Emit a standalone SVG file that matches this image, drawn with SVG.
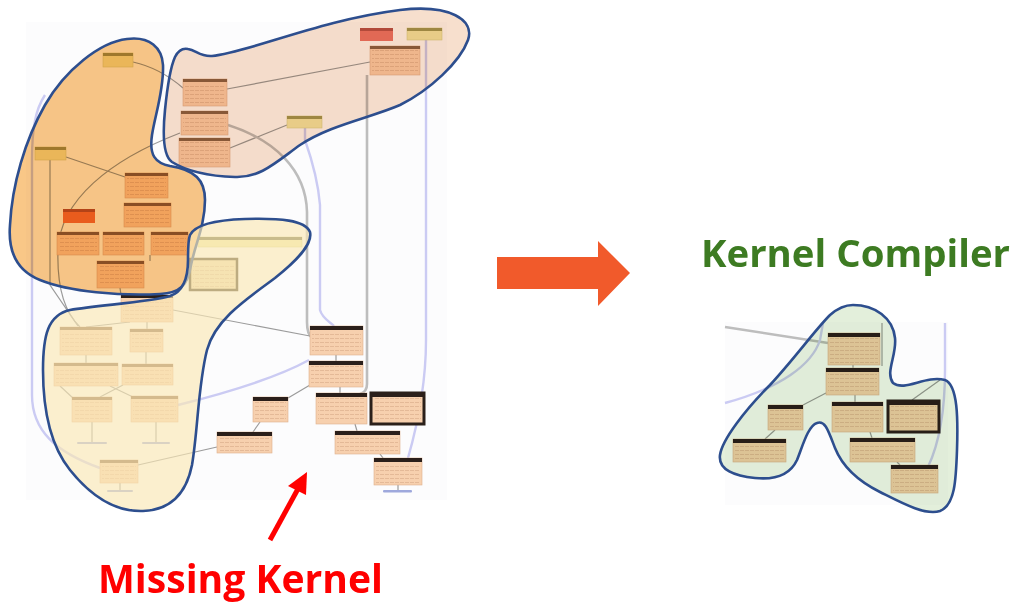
<svg xmlns="http://www.w3.org/2000/svg" width="1020" height="603" viewBox="0 0 1020 603">
  <defs>
    <pattern id="rows" width="5" height="4" patternUnits="userSpaceOnUse">
      <rect x="0" y="2" width="4" height="1" fill="#a06a44" fill-opacity="0.22"/>
    </pattern>
    <style>
      .bg{fill:#fcfcfd}
      .nb{fill:#f7d0ae;stroke:#ddb08c;stroke-width:0.6}
      .rw{fill:url(#rows)}
      .hd{fill:#8c6444}
      .hk{fill:#2b1f1a}
      .ny{fill:#f0eaa8;stroke:#d8d08a;stroke-width:0.6}
      .hy{fill:#a39a52}
      .nr{fill:#e9786a}
      .hr{fill:#b85448}
      .no{fill:#ef7636}
      .ho{fill:#b8552a}
      .thick{fill:#f7d0ae;stroke:#2b201a;stroke-width:3}
      .boxed{fill:#eed9ab;stroke:#4c3d22;stroke-width:2.5}
      .mark{fill:#9ea8dc}
      .eg{fill:none;stroke:#9b9b9b;stroke-width:1.2}
      .ew{fill:none;stroke:#bdbdbd;stroke-width:2.6}
      .el{fill:none;stroke:#cbcbf3;stroke-width:2.4}
      .fill-mul{mix-blend-mode:multiply}
      .outline{fill:none;stroke:#2d4e8e;stroke-width:2.6;stroke-linejoin:round}
      .t{font-family:"Open Sans","Noto Sans","Liberation Sans",sans-serif;font-weight:700}
    </style>
  </defs>

  <!-- faint graph backdrops -->
  <rect class="bg" x="26" y="22" width="421" height="478"/>
  <rect class="bg" x="725" y="322" width="223" height="183"/>

  <!-- connectors -->
  <g id="connectors">
    <!-- upper left graph -->
    <path class="eg" d="M370,62 L227,89"/>
    <path class="eg" d="M230,148 L287,125"/>
    <path class="eg" d="M133,62 Q160,68 183,88"/>
    <path class="eg" d="M66,157 L125,177"/>
    <path class="eg" d="M180,133 C110,160 60,200 58,250 C57,280 62,310 80,327"/>
    <path class="eg" d="M50,160 L50,285 L78,326"/>
    <path class="el" d="M45,95 C35,110 32,130 32,160 L32,395 C32,430 55,452 100,468"/>
    <path class="ew" d="M228,125 C275,140 306,170 307,212 L307,322 Q307,334 312,338"/>
    <path class="el" d="M305,128 L305,140 C312,160 318,180 320,205 L320,310 C322,318 330,322 334,326"/>
    <path class="ew" d="M367,75 L367,384 Q367,392 360,394"/>
    <path class="el" d="M426,40 L426,340 C426,390 416,430 408,458"/>
    <path class="eg" d="M150,255 L150,261"/>
    <path class="eg" d="M120,288 L121,295"/>
    <path class="eg" d="M130,322 L86,327"/>
    <path class="eg" d="M147,322 L147,329"/>
    <path class="eg" d="M173,310 L310,336"/>
    <path class="eg" d="M86,355 L86,363"/>
    <path class="eg" d="M146,352 L146,364"/>
    <path class="eg" d="M110,386 L133,397"/>
    <path class="eg" d="M123,385 L100,397"/>
    <path class="eg" d="M60,386 L74,399"/>
    <path class="eg" d="M92,422 L92,442"/>
    <path class="eg" d="M156,422 L156,442"/>
    <path class="eg" d="M120,483 L120,490"/>
    <path class="eg" d="M138,465 L217,447"/>
    <path class="el" d="M178,405 C230,392 280,376 309,360"/>
    <!-- missing kernel part -->
    <path class="eg" d="M336,355 L336,361"/>
    <path class="eg" d="M310,385 L288,398"/>
    <path class="eg" d="M340,387 L340,393"/>
    <path class="eg" d="M260,422 L253,432"/>
    <path class="eg" d="M355,424 L357,431"/>
    <path class="eg" d="M380,454 L383,458"/>
    <path class="eg" d="M398,490 L398,485"/>
    <!-- kernel compiler part -->
    <path class="ew" d="M725,327 L828,343"/>
    <path class="el" d="M725,403 C780,388 812,365 820,340 L823,323"/>
    <path class="el" d="M945,323 L945,370 C945,420 936,450 928,467"/>
    <path class="eg" d="M882,323 L882,366"/>
    <path class="eg" d="M853,365 L853,368"/>
    <path class="eg" d="M826,393 L803,405"/>
    <path class="eg" d="M855,395 L855,402"/>
    <path class="eg" d="M775,430 L765,439"/>
    <path class="eg" d="M870,432 L872,438"/>
    <path class="eg" d="M897,462 L900,465"/>
    <path class="eg" d="M912,400 L940,380"/>
  </g>

  <!-- upper left graph nodes -->
  <g id="n-op-a"><rect class="ny" x="103" y="53" width="30" height="14"/><rect class="hy" x="103" y="53" width="30" height="3"/></g>
  <g id="n-op-b"><rect class="ny" x="35" y="147" width="31" height="13"/><rect class="hy" x="35" y="147" width="31" height="3"/></g>
  <g id="n-op-c"><rect class="nb" x="125" y="173" width="43" height="25"/><rect class="rw" x="127" y="177" width="39" height="19"/><rect class="hd" x="125" y="173" width="43" height="3"/></g>
  <g id="n-op-d"><rect class="nb" x="124" y="203" width="47" height="24"/><rect class="rw" x="126" y="207" width="43" height="18"/><rect class="hd" x="124" y="203" width="47" height="3"/></g>
  <g id="n-op-e"><rect class="no" x="63" y="209" width="32" height="14"/><rect class="ho" x="63" y="209" width="32" height="3"/></g>
  <g id="n-op-f"><rect class="nb" x="57" y="232" width="42" height="23"/><rect class="rw" x="59" y="236" width="38" height="17"/><rect class="hd" x="57" y="232" width="42" height="3"/></g>
  <g id="n-op-g"><rect class="nb" x="103" y="232" width="41" height="23"/><rect class="rw" x="105" y="236" width="37" height="17"/><rect class="hd" x="103" y="232" width="41" height="3"/></g>
  <g id="n-op-h"><rect class="nb" x="151" y="232" width="37" height="23"/><rect class="rw" x="153" y="236" width="33" height="17"/><rect class="hd" x="151" y="232" width="37" height="3"/></g>
  <g id="n-op-i"><rect class="nb" x="97" y="261" width="47" height="27"/><rect class="rw" x="99" y="265" width="43" height="21"/><rect class="hd" x="97" y="261" width="47" height="3"/></g>

  <g id="n-sa-a"><rect class="nr" x="360" y="28" width="33" height="13"/><rect class="hr" x="360" y="28" width="33" height="3"/></g>
  <g id="n-sa-b"><rect class="ny" x="407" y="28" width="35" height="12"/><rect class="hy" x="407" y="28" width="35" height="3"/></g>
  <g id="n-sa-c"><rect class="nb" x="370" y="46" width="50" height="29"/><rect class="rw" x="372" y="50" width="46" height="23"/><rect class="hd" x="370" y="46" width="50" height="3"/></g>
  <g id="n-sa-d"><rect class="nb" x="183" y="79" width="44" height="27"/><rect class="rw" x="185" y="83" width="40" height="21"/><rect class="hd" x="183" y="79" width="44" height="3"/></g>
  <g id="n-sa-e"><rect class="nb" x="181" y="111" width="47" height="24"/><rect class="rw" x="183" y="115" width="43" height="18"/><rect class="hd" x="181" y="111" width="47" height="3"/></g>
  <g id="n-sa-f"><rect class="nb" x="179" y="138" width="51" height="29"/><rect class="rw" x="181" y="142" width="47" height="23"/><rect class="hd" x="179" y="138" width="51" height="3"/></g>
  <g id="n-sa-g"><rect class="ny" x="287" y="116" width="35" height="12"/><rect class="hy" x="287" y="116" width="35" height="3"/></g>

  <g id="n-ye-bar"><rect class="ny" x="198" y="237" width="104" height="10"/><rect fill="#6e6a40" x="198" y="237" width="104" height="3"/></g>
  <g id="n-ye-box"><rect class="boxed" x="190" y="259" width="47" height="31"/><rect class="rw" x="193" y="263" width="41" height="24"/></g>
  <g id="n-ye-a"><rect class="nb" x="121" y="295" width="52" height="27"/><rect class="rw" x="123" y="299" width="48" height="21"/><rect class="hk" x="121" y="295" width="52" height="3"/></g>
  <g id="n-ye-b"><rect class="nb" x="60" y="327" width="52" height="28"/><rect class="rw" x="62" y="331" width="48" height="22"/><rect class="hd" x="60" y="327" width="52" height="3"/></g>
  <g id="n-ye-c"><rect class="nb" x="130" y="329" width="33" height="23"/><rect class="rw" x="132" y="333" width="29" height="17"/><rect class="hd" x="130" y="329" width="33" height="3"/></g>
  <g id="n-ye-d"><rect class="nb" x="54" y="363" width="64" height="23"/><rect class="rw" x="56" y="367" width="60" height="17"/><rect class="hd" x="54" y="363" width="64" height="3"/></g>
  <g id="n-ye-e"><rect class="nb" x="122" y="364" width="51" height="21"/><rect class="rw" x="124" y="368" width="47" height="15"/><rect class="hd" x="122" y="364" width="51" height="3"/></g>
  <g id="n-ye-f"><rect class="nb" x="72" y="397" width="40" height="25"/><rect class="rw" x="74" y="401" width="36" height="19"/><rect class="hd" x="72" y="397" width="40" height="3"/></g>
  <g id="n-ye-g"><rect class="nb" x="131" y="396" width="47" height="26"/><rect class="rw" x="133" y="400" width="43" height="20"/><rect class="hd" x="131" y="396" width="47" height="3"/></g>
  <g id="n-ye-h"><rect class="nb" x="100" y="460" width="38" height="23"/><rect class="rw" x="102" y="464" width="34" height="17"/><rect class="hd" x="100" y="460" width="38" height="3"/></g>
  <g id="n-ye-marks">
    <rect class="mark" x="77" y="442" width="30" height="2" rx="1"/>
    <rect class="mark" x="142" y="442" width="28" height="2" rx="1"/>
    <rect class="mark" x="107" y="490" width="26" height="2" rx="1"/>
  </g>

  <g id="n-mk-a"><rect class="nb" x="310" y="326" width="53" height="29"/><rect class="rw" x="312" y="331" width="49" height="22"/><rect class="hk" x="310" y="326" width="53" height="4"/></g>
  <g id="n-mk-b"><rect class="nb" x="309" y="361" width="54" height="26"/><rect class="rw" x="311" y="366" width="50" height="19"/><rect class="hk" x="309" y="361" width="54" height="4"/></g>
  <g id="n-mk-c"><rect class="nb" x="253" y="397" width="35" height="25"/><rect class="rw" x="255" y="402" width="31" height="18"/><rect class="hk" x="253" y="397" width="35" height="4"/></g>
  <g id="n-mk-d"><rect class="nb" x="316" y="393" width="51" height="31"/><rect class="rw" x="318" y="398" width="47" height="24"/><rect class="hk" x="316" y="393" width="51" height="4"/></g>
  <g id="n-mk-e"><rect class="thick" x="371" y="393" width="53" height="31"/><rect class="rw" x="374" y="398" width="47" height="23"/><rect class="hk" x="371" y="393" width="53" height="4"/></g>
  <g id="n-mk-f"><rect class="nb" x="217" y="432" width="55" height="21"/><rect class="rw" x="219" y="437" width="51" height="14"/><rect class="hk" x="217" y="432" width="55" height="4"/></g>
  <g id="n-mk-g"><rect class="nb" x="335" y="431" width="65" height="23"/><rect class="rw" x="337" y="436" width="61" height="16"/><rect class="hk" x="335" y="431" width="65" height="4"/></g>
  <g id="n-mk-h"><rect class="nb" x="374" y="458" width="48" height="27"/><rect class="rw" x="376" y="463" width="44" height="20"/><rect class="hk" x="374" y="458" width="48" height="4"/></g>
  <g id="n-mk-mark"><rect class="mark" x="383" y="490" width="29" height="2.5" rx="1"/></g>

  <g id="n-kc-a"><rect class="nb" x="828" y="333" width="52" height="32"/><rect class="rw" x="830" y="338" width="48" height="25"/><rect class="hk" x="828" y="333" width="52" height="4"/></g>
  <g id="n-kc-b"><rect class="nb" x="826" y="368" width="53" height="27"/><rect class="rw" x="828" y="373" width="49" height="20"/><rect class="hk" x="826" y="368" width="53" height="4"/></g>
  <g id="n-kc-c"><rect class="nb" x="768" y="405" width="35" height="25"/><rect class="rw" x="770" y="410" width="31" height="18"/><rect class="hk" x="768" y="405" width="35" height="4"/></g>
  <g id="n-kc-d"><rect class="nb" x="832" y="402" width="51" height="30"/><rect class="rw" x="834" y="407" width="47" height="23"/><rect class="hk" x="832" y="402" width="51" height="4"/></g>
  <g id="n-kc-e"><rect class="thick" x="888" y="401" width="51" height="31"/><rect class="rw" x="891" y="406" width="45" height="23"/><rect class="hk" x="888" y="401" width="51" height="4"/></g>
  <g id="n-kc-f"><rect class="nb" x="733" y="439" width="53" height="23"/><rect class="rw" x="735" y="444" width="49" height="16"/><rect class="hk" x="733" y="439" width="53" height="4"/></g>
  <g id="n-kc-g"><rect class="nb" x="850" y="438" width="65" height="24"/><rect class="rw" x="852" y="443" width="61" height="17"/><rect class="hk" x="850" y="438" width="65" height="4"/></g>
  <g id="n-kc-h"><rect class="nb" x="891" y="465" width="47" height="28"/><rect class="rw" x="893" y="470" width="43" height="21"/><rect class="hk" x="891" y="465" width="47" height="4"/></g>

  <!-- cluster regions -->
  <g id="cluster-orange">
    <path class="fill-mul" fill="#f9c787" d="M127,39 C150,36 162,48 163,65 C164,90 155,115 152,135 C149,155 155,163 170,166 C195,170 205,180 205,200 C205,225 195,245 191,265 C188,285 180,293 160,294 C120,296 70,292 40,280 C15,270 8,250 10,225 C12,185 25,140 45,105 C65,70 100,42 127,39 Z"/>
    <path class="outline" d="M127,39 C150,36 162,48 163,65 C164,90 155,115 152,135 C149,155 155,163 170,166 C195,170 205,180 205,200 C205,225 195,245 191,265 C188,285 180,293 160,294 C120,296 70,292 40,280 C15,270 8,250 10,225 C12,185 25,140 45,105 C65,70 100,42 127,39 Z"/>
  </g>
  <g id="cluster-salmon">
    <path class="fill-mul" fill="#f7dfcd" d="M188,49 C196,50 200,57 212,56 C250,52 320,20 400,10 C450,4 475,20 468,40 C460,62 430,90 400,105 C370,118 330,125 300,145 C275,163 260,178 235,177 C205,176 185,170 172,162 C162,155 163,130 165,110 C167,90 170,68 175,57 C178,51 183,48 188,49 Z"/>
    <path class="outline" d="M188,49 C196,50 200,57 212,56 C250,52 320,20 400,10 C450,4 475,20 468,40 C460,62 430,90 400,105 C370,118 330,125 300,145 C275,163 260,178 235,177 C205,176 185,170 172,162 C162,155 163,130 165,110 C167,90 170,68 175,57 C178,51 183,48 188,49 Z"/>
  </g>
  <g id="cluster-yellow">
    <path fill="#fae8b5" fill-opacity="0.65" d="M190,235 C195,225 215,220 245,219 C280,218 305,220 310,232 C313,245 295,262 275,278 C245,300 215,320 207,350 C198,385 198,430 192,465 C186,495 170,510 143,511 C115,512 90,495 70,470 C50,445 43,410 43,370 C43,335 48,315 70,310 C100,305 150,302 170,296 C185,291 188,275 188,260 C188,248 188,240 190,235 Z"/>
    <path class="outline" d="M190,235 C195,225 215,220 245,219 C280,218 305,220 310,232 C313,245 295,262 275,278 C245,300 215,320 207,350 C198,385 198,430 192,465 C186,495 170,510 143,511 C115,512 90,495 70,470 C50,445 43,410 43,370 C43,335 48,315 70,310 C100,305 150,302 170,296 C185,291 188,275 188,260 C188,248 188,240 190,235 Z"/>
  </g>
  <g id="cluster-green">
    <path class="fill-mul" fill="#e3efdb" d="M853,305 C875,305 893,318 895,338 C897,355 885,372 893,383 C905,392 925,375 945,380 C958,385 958,420 957,450 C956,480 955,505 940,511 C925,516 900,502 880,492 C860,482 843,468 835,448 C828,430 825,420 817,423 C808,426 803,445 797,460 C790,475 775,480 755,478 C735,476 718,470 720,455 C722,440 745,410 770,385 C795,358 815,330 830,315 C838,308 845,305 853,305 Z"/>
    <path class="outline" d="M853,305 C875,305 893,318 895,338 C897,355 885,372 893,383 C905,392 925,375 945,380 C958,385 958,420 957,450 C956,480 955,505 940,511 C925,516 900,502 880,492 C860,482 843,468 835,448 C828,430 825,420 817,423 C808,426 803,445 797,460 C790,475 775,480 755,478 C735,476 718,470 720,455 C722,440 745,410 770,385 C795,358 815,330 830,315 C838,308 845,305 853,305 Z"/>
  </g>

  <!-- transition arrow -->
  <g id="arrow-transform">
    <polygon fill="#f15a2b" points="497,257 598,257 598,241 630,273 598,306 598,289 497,289"/>
  </g>

  <!-- pointer to the gap -->
  <g id="arrow-missing">
    <line x1="270" y1="540" x2="299" y2="487" stroke="#ff0000" stroke-width="5"/>
    <polygon fill="#ff0000" points="307,472 306,495 288,486"/>
  </g>

  <g id="label-compiler">
    <text class="t" x="701" y="267" font-size="38" fill="#3d7b22" textLength="309" lengthAdjust="spacingAndGlyphs">Kernel Compiler</text>
  </g>
  <g id="label-missing">
    <text class="t" x="98" y="593" font-size="39" fill="#ff0000" textLength="285" lengthAdjust="spacingAndGlyphs">Missing Kernel</text>
  </g>
</svg>
